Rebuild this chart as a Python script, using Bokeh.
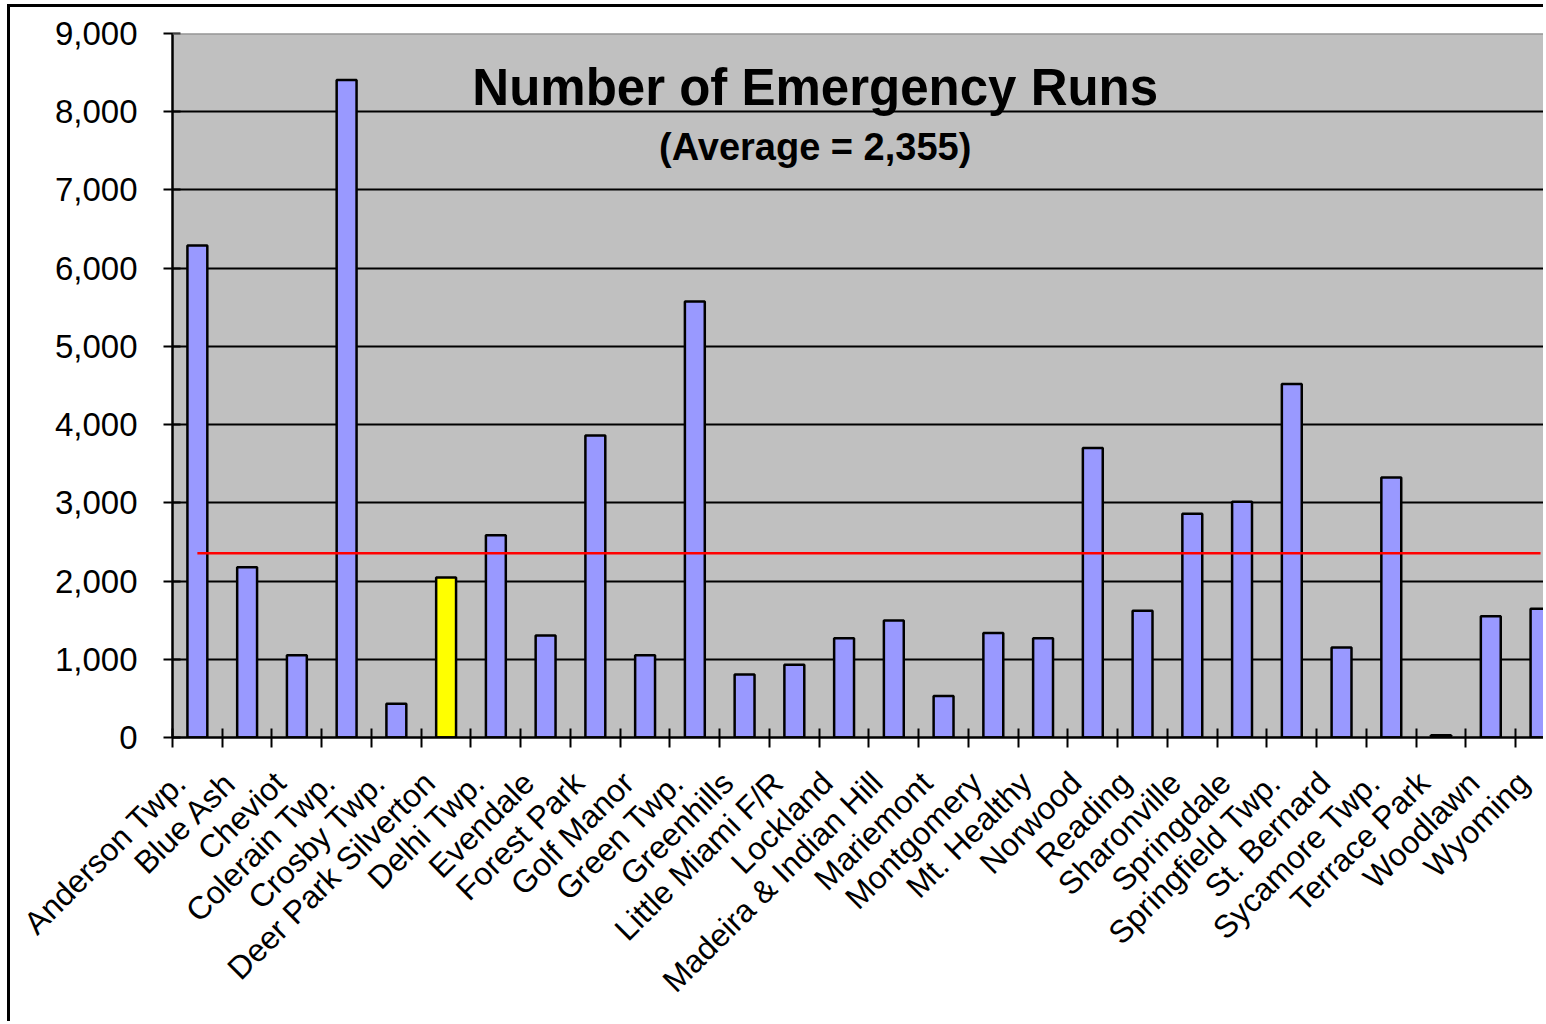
import math

from bokeh.embed import file_html
from bokeh.models import (FixedTicker, Grid, Label, LinearAxis,
                          NumeralTickFormatter, Range1d, Span)
from bokeh.plotting import figure
from bokeh.resources import INLINE

# Emergency runs per fire/EMS district
districts = [
    "Anderson Twp.", "Blue Ash", "Cheviot", "Colerain Twp.", "Crosby Twp.",
    "Deer Park Silverton", "Delhi Twp.", "Evendale", "Forest Park", "Golf Manor",
    "Green Twp.", "Greenhills", "Little Miami F/R", "Lockland",
    "Madeira & Indian Hill", "Mariemont", "Montgomery", "Mt. Healthy", "Norwood",
    "Reading", "Sharonville", "Springdale", "Springfield Twp.", "St. Bernard",
    "Sycamore Twp.", "Terrace Park", "Woodlawn", "Wyoming",
]
runs = [
    6290, 2175, 1050, 8405, 430,
    2045, 2585, 1305, 3860, 1050,
    5575, 805, 930, 1270,
    1495, 530, 1335, 1270, 3700,
    1620, 2860, 3015, 4520, 1150,
    3325, 30, 1550, 1645,
]
highlight = "Deer Park Silverton"
average = 2355
y_ticks = [0, 1000, 2000, 3000, 4000, 5000, 6000, 7000, 8000, 9000]

FONT = "Liberation Sans"

centers = [i + 0.5 for i in range(len(districts))]
edges = [float(i) for i in range(len(districts) + 1)]
colors = ["#FFFF00" if d == highlight else "#9999FF" for d in districts]

# slanted category labels sit a little left of the bar centres
label_shift = 0.34
label_pos = [round(c - label_shift, 2) for c in centers]

p = figure(
    width=1536, height=1017,
    output_backend="svg", toolbar_location=None,
    x_range=Range1d(0, 27.62), y_range=Range1d(0, 9000),
    x_axis_type=None, y_axis_type=None,
    min_border_left=162, min_border_right=0,
    min_border_top=26, min_border_bottom=287,
    styles={
        "margin-left": "7px", "margin-top": "4px",
        "border-left": "3px solid black", "border-top": "3px solid black",
    },
)
p.background_fill_color = "#C0C0C0"
p.border_fill_color = "white"
p.outline_line_color = None

# value axis
yaxis = LinearAxis(
    ticker=FixedTicker(ticks=y_ticks),
    formatter=NumeralTickFormatter(format="0,0"),
)
yaxis.axis_line_color = "black"
yaxis.axis_line_width = 2.5
yaxis.major_tick_line_color = "black"
yaxis.major_tick_line_width = 2
yaxis.major_tick_in = 8
yaxis.major_tick_out = 9
yaxis.minor_tick_line_color = None
yaxis.major_label_standoff = 26
yaxis.major_label_text_font = FONT
yaxis.major_label_text_font_size = "33px"
yaxis.major_label_text_color = "black"
p.add_layout(yaxis, "left")

# category axis: slanted names, tick marks between categories
xaxis = LinearAxis(
    ticker=FixedTicker(ticks=label_pos, minor_ticks=edges),
    major_label_overrides={pos: d for pos, d in zip(label_pos, districts)},
)
xaxis.axis_line_color = "black"
xaxis.axis_line_width = 2.5
xaxis.major_tick_line_color = None
xaxis.major_tick_in = 0
xaxis.major_tick_out = 0
xaxis.minor_tick_line_color = "black"
xaxis.minor_tick_line_width = 2
xaxis.minor_tick_in = 9
xaxis.minor_tick_out = 10
xaxis.major_label_orientation = math.pi / 4
xaxis.major_label_standoff = 30
xaxis.major_label_text_font = FONT
xaxis.major_label_text_font_size = "32px"
xaxis.major_label_text_color = "black"
p.add_layout(xaxis, "below")

# horizontal grid lines
p.add_layout(Grid(dimension=1, ticker=FixedTicker(ticks=y_ticks[1:-1]),
                  grid_line_color="black", grid_line_width=2))

# plot-area border along the top
p.add_layout(Span(location=y_ticks[-1], dimension="width",
                  line_color="#808080", line_width=2))

p.vbar(x=centers, top=runs, width=0.4, fill_color=colors,
       line_color="black", line_width=2.5)

# average line across the districts
p.segment(x0=[centers[0]], x1=[centers[-1]], y0=[average], y1=[average],
          line_color="#FF0000", line_width=2.5)

p.add_layout(Label(x=12.92, y=8315, text="Number of Emergency Runs",
                   text_font=FONT, text_font_style="bold",
                   text_font_size="51px", text_align="center",
                   text_baseline="alphabetic", text_color="black"))
p.add_layout(Label(x=12.92, y=7548, text=f"(Average = {average:,})",
                   text_font=FONT, text_font_style="bold",
                   text_font_size="38px", text_align="center",
                   text_baseline="alphabetic", text_color="black"))

open("out.html", "w").write(file_html(p, INLINE))
